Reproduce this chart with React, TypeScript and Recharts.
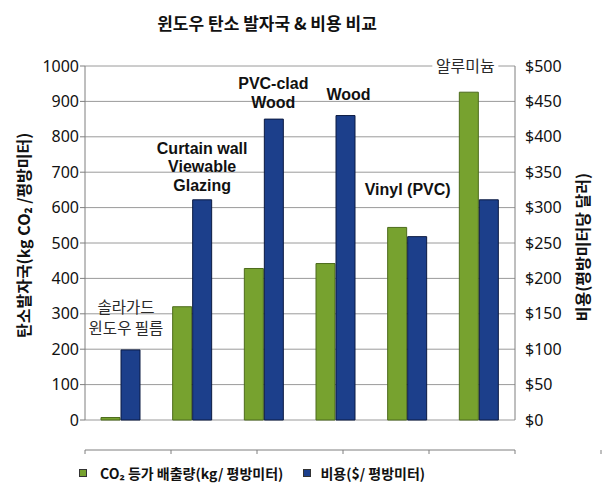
import { BarChart, Bar, XAxis, YAxis, CartesianGrid, Legend, LabelList } from "recharts";

const CATEGORIES = [
  "솔라가드 윈도우 필름",
  "Curtain wall Viewable Glazing",
  "PVC-clad Wood",
  "Wood",
  "Vinyl (PVC)",
  "알루미늄",
];
const LABEL_LINES = [
  ["솔라가드", "윈도우 필름"],
  ["Curtain wall", "Viewable", "Glazing"],
  ["PVC-clad", "Wood"],
  ["Wood"],
  ["Vinyl (PVC)"],
  ["알루미늄"],
];
const CO2_KG = [7, 320, 428, 442, 544, 926];
const COST_USD = [99, 311, 425, 430, 259, 311];
const KG_TICKS = [0, 100, 200, 300, 400, 500, 600, 700, 800, 900, 1000];
const USD_TICKS = [0, 50, 100, 150, 200, 250, 300, 350, 400, 450, 500];
const EDGE_TICKS = [0, 1, 2, 3, 4, 5, 6];

const SERIES_CO2 = "CO₂ 등가 배출량(kg/ 평방미터)";
const SERIES_COST = "비용($/ 평방미터)";
const TITLE = "윈도우 탄소 발자국 & 비용 비교";
const LEFT_TITLE = "탄소발자국(kg CO₂ /평방미터)";
const RIGHT_TITLE = "비용(평방미터당 달러)";

// label placement relative to the top-left of the blue bar
const LABEL_LAYOUT = [
  { dx: 5, dy: -37, lh: 21, bg: false },
  { dx: 9.5, dy: -46, lh: 18.5, bg: false },
  { dx: 9, dy: -30, lh: 18.4, bg: false },
  { dx: 12.5, dy: -16, lh: 18, bg: false },
  { dx: 0, dy: -42, lh: 18, bg: false },
  { dx: -14, dy: -128, lh: 18, bg: true },
];

const GREEN = "#77a22f";
const BLUE = "#1c3f8b";
const KR = "'Noto Sans CJK KR', 'Noto Sans', sans-serif";
const EN = "'Liberation Sans', Arial, sans-serif";

const rows = CATEGORIES.map((name, i) => ({ name, co2: CO2_KG[i], cost: COST_USD[i] }));

const renderCategoryLabel = (props: any) => {
  const { x, y, value } = props;
  const i = CATEGORIES.indexOf(value);
  if (i < 0) return null;
  const lines = LABEL_LINES[i];
  const lay = LABEL_LAYOUT[i];
  const korean = /[가-힣]/.test(value);
  const cx = Number(x) + lay.dx;
  const base = Number(y) + lay.dy;
  return (
    <g>
      {lay.bg && <rect x={cx - 33} y={base - 15} width={66} height={19} fill="#fff" />}
      <text
        textAnchor="middle"
        fontFamily={korean ? KR : EN}
        fontWeight={korean ? 400 : 700}
        fontSize={korean && lines.length > 1 ? 15.5 : 16}
        fill={korean ? "#2a2a2a" : "#111"}
      >
        {lines.map((l, k) => (
          <tspan key={k} x={cx} y={base + k * lay.lh}>
            {l}
          </tspan>
        ))}
      </text>
    </g>
  );
};

const renderLeftTitle = (props: any) => {
  const vb = props.viewBox || { x: 25, y: 66, height: 354 };
  const x = vb.x - 2;
  const y = vb.y + vb.height - 82;
  return (
    <text
      x={x}
      y={y}
      transform={`rotate(-90 ${x} ${y})`}
      textAnchor="start"
      dominantBaseline="central"
      fontFamily={KR}
      fontWeight={700}
      fontSize={16}
      fill="#111"
    >
      {LEFT_TITLE}
    </text>
  );
};

const renderRightTitle = (props: any) => {
  const vb = props.viewBox || { x: 515, y: 66, height: 354 };
  const x = vb.x + 67;
  const y = vb.y + 107;
  return (
    <text
      x={x}
      y={y}
      transform={`rotate(-90 ${x} ${y})`}
      textAnchor="end"
      dominantBaseline="central"
      fontFamily={KR}
      fontWeight={700}
      fontSize={16}
      fill="#111"
    >
      {RIGHT_TITLE}
    </text>
  );
};

const renderLegend = (props: any) => {
  const payload = props.payload || [];
  return (
    <div
      style={{
        height: 20,
        display: "flex",
        alignItems: "center",
        paddingLeft: 79,
        fontFamily: KR,
        fontSize: 14,
        fontWeight: 700,
        color: "#111",
      }}
    >
      {payload.map((p: any, i: number) => (
        <div key={i} style={{ display: "flex", alignItems: "center", marginRight: 20 }}>
          <span
            style={{
              display: "inline-block",
              width: 6,
              height: 6,
              background: p.color,
              border: "1px solid #333",
              marginRight: i === 0 ? 13 : 9,
            }}
          />
          <span>{p.value}</span>
        </div>
      ))}
    </div>
  );
};

export default function App() {
  return (
    <div style={{ position: "absolute", left: 0, top: 0, background: "#fff" }}>
      <BarChart
        width={604}
        height={494}
        data={rows}
        margin={{ top: 66, right: 29, left: 25, bottom: 50 }}
        barSize={19}
        barGap={1}
      >
        <text x={267} y={30} textAnchor="middle" fontFamily={KR} fontWeight={700} fontSize={17} fill="#111">
          {TITLE}
        </text>
        <CartesianGrid xAxisId="cat" yAxisId="kg" vertical={false} stroke="#9a9a9a" />
        <XAxis xAxisId="cat" dataKey="name" hide />
        <XAxis
          xAxisId="edge"
          type="number"
          domain={[0, 6]}
          ticks={EDGE_TICKS}
          allowDataOverflow
          tickFormatter={() => ""}
          tickSize={4}
          height={4}
          stroke="#7f7f7f"
        />
        <YAxis
          yAxisId="kg"
          domain={[0, 1000]}
          ticks={KG_TICKS}
          width={60}
          tickSize={5}
          tickMargin={1}
          stroke="#7f7f7f"
          tick={{ fill: "#111", fontSize: 16, fontFamily: "'Noto Sans', sans-serif" }}
          label={renderLeftTitle}
        />
        <YAxis
          yAxisId="usd"
          orientation="right"
          domain={[0, 500]}
          ticks={USD_TICKS}
          width={60}
          tickLine={false}
          tickSize={5}
          tickMargin={5}
          stroke="#7f7f7f"
          tickFormatter={(v) => `$${v}`}
          tick={{ fill: "#111", fontSize: 16, fontFamily: "'Noto Sans', sans-serif" }}
          label={renderRightTitle}
        />
        <Bar xAxisId="cat" yAxisId="kg" dataKey="co2" name={SERIES_CO2} fill={GREEN} stroke="#4c6b1c" isAnimationActive={false} />
        <Bar xAxisId="cat" yAxisId="usd" dataKey="cost" name={SERIES_COST} fill={BLUE} stroke="#0b1a42" isAnimationActive={false}>
          <LabelList dataKey="name" content={renderCategoryLabel} />
        </Bar>
        <Legend content={renderLegend} wrapperStyle={{ left: 0, bottom: 11, width: 604 }} />
      </BarChart>
    </div>
  );
}
